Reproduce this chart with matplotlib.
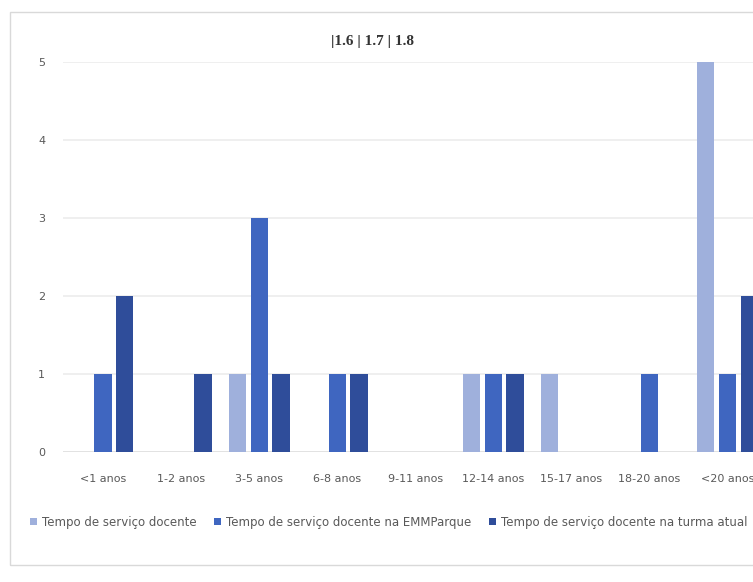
import numpy as np
import matplotlib.pyplot as plt
from matplotlib.patches import Rectangle

# Data
categories = ['<1 anos', '1-2 anos', '3-5 anos', '6-8 anos', '9-11 anos',
              '12-14 anos', '15-17 anos', '18-20 anos', '<20 anos']
servico_docente = [0, 0, 1, 0, 0, 1, 1, 0, 5]
servico_emmparque = [1, 0, 3, 1, 0, 1, 0, 1, 1]
servico_turma = [2, 1, 1, 1, 0, 1, 0, 0, 2]
series_names = ['Tempo de serviço docente',
                'Tempo de serviço docente na EMMParque',
                'Tempo de serviço docente na turma atual']
colors = ['#9fb0dc', '#3f66c0', '#2f4d9a']

fig = plt.figure(figsize=(7.53, 5.82), dpi=100)
ax = fig.add_axes([0.084, 0.2234, 0.916, 0.67])

x = np.arange(len(categories))
width = 0.22
offset = 0.28
for i, (vals, name, c) in enumerate(zip([servico_docente, servico_emmparque, servico_turma],
                                       series_names, colors)):
    ax.bar(x + (i - 1) * offset, vals, width, color=c, label=name, zorder=3)

ax.set_xlim(-0.51, 8.33)
ax.set_ylim(0, 5)
ax.set_yticks(range(0, 6))
ax.yaxis.grid(True, color='#ececec', linewidth=1.2, zorder=0)
ax.axhline(0, color='#e0e0e0', linewidth=1.2, zorder=2)
for s in ax.spines.values():
    s.set_visible(False)
ax.tick_params(length=0)
ax.tick_params(axis='y', pad=13, labelsize=8, labelcolor='#595959')
ax.set_xticks(x)
ax.set_xticklabels(categories, fontsize=8, color='#595959')
ax.tick_params(axis='x', pad=16)

fig.text(0.495, 0.928, '|1.6 | 1.7 | 1.8', ha='center', va='center',
         fontsize=11, fontweight='bold', family='Liberation Serif', color='#333333')

leg = fig.legend(loc='center', bbox_to_anchor=(0.516, 0.103), ncol=3, frameon=False,
                 handlelength=0.6, handleheight=0.6, columnspacing=1.5,
                 handletextpad=0.4, prop={'size': 8.5})
for t in leg.get_texts():
    t.set_color('#595959')

# chart border
fig.patches.append(Rectangle((10 / 753, 1 - 565 / 582), 1.0, (565 - 12) / 582,
                             transform=fig.transFigure, fill=False,
                             edgecolor='#d9d9d9', linewidth=1.0))

fig.savefig('out.png', dpi=100)
